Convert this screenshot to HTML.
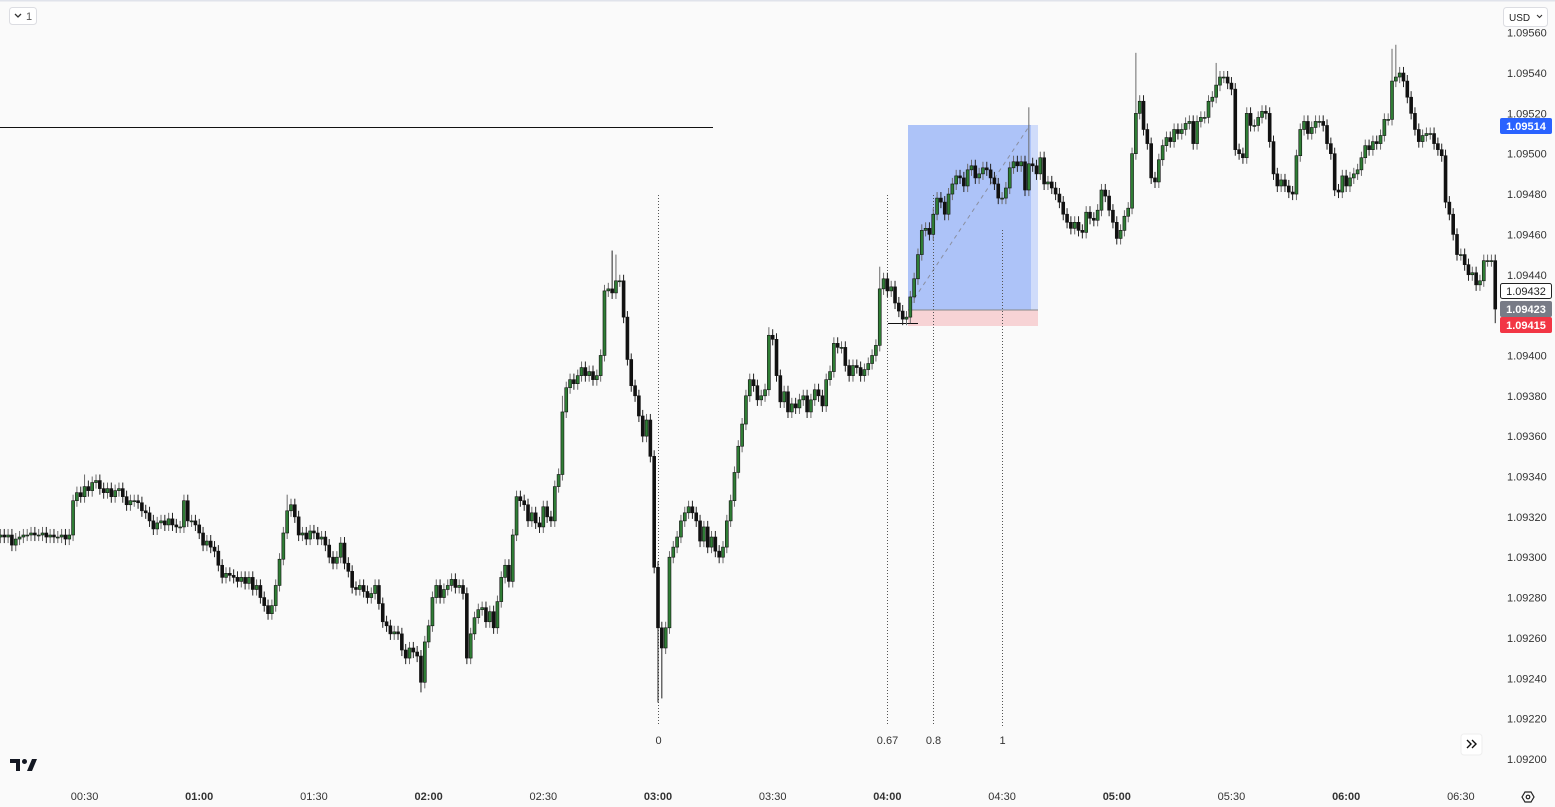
<!DOCTYPE html>
<html><head><meta charset="utf-8"><style>
html,body{margin:0;padding:0;background:#fafafa;width:1555px;height:807px;overflow:hidden;font-family:"Liberation Sans",sans-serif}
svg{position:absolute;left:0;top:0}
</style></head><body>
<svg id="c" width="1555" height="807">
<rect x="0" y="0" width="1555" height="807" fill="#fafafa"/>
<line x1="0" y1="0.5" x2="1555" y2="0.5" stroke="#e0e3eb" stroke-width="2"/>
<line x1="0" y1="127.5" x2="713" y2="127.5" stroke="#111" stroke-width="1"/>
<g>
<rect x="908" y="125" width="123" height="185" fill="#adc3f8"/>
<rect x="1031" y="125" width="7" height="185" fill="#d0dcfa"/>
<rect x="908" y="310" width="130" height="16" fill="#f7d3d5"/>
<line x1="908" y1="310" x2="1038" y2="310" stroke="#888"/>
<line x1="910" y1="305" x2="1030" y2="125" stroke="#8a8fa0" stroke-dasharray="4,4"/>
</g>
<line x1="888" y1="323.5" x2="918" y2="323.5" stroke="#111"/>
<g id="fib"></g>
<g id="candles"></g>
<g id="yaxis"></g>
<g id="xaxis"></g>
<g>
<rect x="1500" y="118" width="52" height="16" rx="2" fill="#2962ff"/>
<text x="1526" y="130" fill="#fff" font-size="11" text-anchor="middle" font-weight="bold">1.09514</text>
<rect x="1500.5" y="283.5" width="51" height="15" rx="2" fill="#fff" stroke="#222"/>
<text x="1526" y="295" fill="#222" font-size="11" text-anchor="middle">1.09432</text>
<rect x="1500" y="301" width="52" height="16" rx="2" fill="#787b86"/>
<text x="1526" y="313" fill="#fff" font-size="11" text-anchor="middle" font-weight="bold">1.09423</text>
<rect x="1500" y="317" width="52" height="16" rx="2" fill="#f23645"/>
<text x="1526" y="329" fill="#fff" font-size="11" text-anchor="middle" font-weight="bold">1.09415</text>
</g>
<g>
<rect x="9.5" y="7.5" width="27" height="17" rx="3" fill="#fff" stroke="#dcdde2"/>
<path d="M15 14 l3 3 l3 -3" fill="none" stroke="#333" stroke-width="1.3"/>
<text x="26" y="20" font-size="11" fill="#555">1</text>
</g>
<g>
<rect x="1503.5" y="7.5" width="44" height="19" rx="3" fill="#fff" stroke="#dcdde2"/>
<text x="1509" y="21" font-size="10" fill="#222">USD</text>
<path d="M1537 15 l2.5 2.5 l2.5 -2.5" fill="none" stroke="#333" stroke-width="1.1"/>
</g>
<g>
<rect x="1461" y="734" width="21" height="21" rx="3" fill="#fff" stroke="#eee"/>
<path d="M1467 740 l4 4 l-4 4 M1472 740 l4 4 l-4 4" fill="none" stroke="#111" stroke-width="1.4"/>
</g>
<g>
<path d="M1522 797 l3 -5 h6 l3 5 l-3 5 h-6z" fill="none" stroke="#222" stroke-width="1.2"/>
<circle cx="1528" cy="797" r="1.8" fill="none" stroke="#222" stroke-width="1.2"/>
</g>
<g>
<path d="M10 759 h10 v12 h-4 v-8 h-6z" fill="#131722"/>
<circle cx="24.5" cy="761.5" r="2.5" fill="#131722"/>
<path d="M27 771 l5 -12 h5 l-5 12z" fill="#131722"/>
</g>
</svg>
<script>
// candle closes in 1e-5 units above 1.09 (first candle at 00:08, one candle per minute)
const closes = [311,310,311,306,309,310,311,311,312,311,311,312,310,311,310,310,311,309,311,
328,332,330,335,333,337,338,334,332,334,330,333,334,330,326,328,328,327,323,322,318,314,317,318,316,319,316,315,315,328,318,318,316,312,306,308,305,303,296,290,292,291,290,288,290,287,290,284,286,280,276,272,276,286,299,312,323,326,320,311,312,309,313,312,309,310,306,300,297,300,307,297,293,285,284,286,283,280,282,286,277,268,266,262,263,262,254,250,255,253,251,238,258,266,280,286,280,284,286,289,285,286,282,250,262,270,274,275,268,273,265,278,290,296,288,311,330,328,326,318,322,317,315,325,320,318,335,341,372,384,388,386,390,394,390,392,388,390,400,432,433,431,437,437,419,398,385,380,370,360,368,350,295,265,255,265,300,305,310,318,322,325,322,318,308,315,305,310,303,300,305,318,328,342,355,366,380,388,385,378,380,383,410,408,390,377,382,372,376,374,378,380,372,378,383,380,375,388,392,406,404,404,395,390,395,394,390,393,396,400,405,433,438,432,434,426,422,418,419,429,438,450,462,463,460,470,478,476,470,480,485,489,488,484,492,494,488,490,493,492,488,485,478,478,483,493,496,494,496,482,495,494,490,498,485,486,483,480,476,470,466,463,466,462,461,471,468,467,472,482,479,472,466,458,462,469,473,500,520,526,512,505,488,486,497,504,508,506,512,510,512,515,516,505,516,518,518,526,528,534,538,538,535,532,502,500,498,520,514,514,518,521,520,506,490,484,487,484,481,480,499,512,516,510,513,516,516,514,505,500,482,481,489,484,488,490,492,498,504,502,506,505,509,517,517,536,538,540,536,528,520,512,506,509,510,510,505,502,499,476,470,460,450,450,445,440,441,435,437,447,447,447,423];
const firstOpen = 310;
// notable wick extremes: candle index, high, low
const spikeIdx = [22,75,110,147,160,161,172,173,201,230,269,297,318,364,365,391];
const spikeHigh = [341,331,null,380,452,450,null,null,414,444,523,550,545,552,554,null];
const spikeLow = [null,null,233,null,null,null,228,230,null,null,null,null,null,null,null,416];
const priceTicks = [560,540,520,500,480,460,440,420,400,380,360,340,320,300,280,260,240,220,200];
const timeLabels = ["00:30","01:00","01:30","02:00","02:30","03:00","03:30","04:00","04:30","05:00","05:30","06:00","06:30"];
const timeMinutes = [30,60,90,120,150,180,210,240,270,300,330,360,390];
const fibLevels = ["0","0.67","0.8","1"];
const fibMinutes = [180,240,252,270];
const fibTops = [195,195,195,230];

const NS="http://www.w3.org/2000/svg";
const yOf = p => 73 + (540 - p) * 2.0175;
const xOfMin = m => 658 + (m - 180) * 3.823;
function mk(tag, attrs, parent){const e=document.createElementNS(NS,tag);for(const k in attrs)e.setAttribute(k,attrs[k]);parent.appendChild(e);return e;}

const cg=document.getElementById('candles');
let prev=firstOpen;
closes.forEach((c,k)=>{
  const o=prev; prev=c;
  const x=xOfMin(k+8);
  let hi=Math.max(o,c)+3, lo=Math.min(o,c)-3;
  const si=spikeIdx.indexOf(k);
  if(si>=0){ if(spikeHigh[si]!=null)hi=spikeHigh[si]; if(spikeLow[si]!=null)lo=spikeLow[si]; }
  const up=c>=o;
  const g=mk('g',{},cg);
  
  
  mk('line',{x1:x,x2:x,y1:yOf(hi),y2:yOf(lo),stroke:up?'#6b6b6b':'#222','stroke-width':1},g);
  const yt=yOf(Math.max(o,c)), yb=yOf(Math.min(o,c));
  mk('rect',{x:x-1.5,y:yt,width:3,height:Math.max(1,yb-yt),fill:up?'#2f7d35':'#111',stroke:'#111','stroke-width':0.6},g);
});

const ya=document.getElementById('yaxis');
priceTicks.forEach(p=>{
  const t=mk('text',{x:1507,y:yOf(p)+4,'font-size':11,fill:'#333'},ya);
  
  
  t.textContent='1.09'+String(p).padStart(3,'0');
});

const xa=document.getElementById('xaxis');
timeLabels.forEach((l,i)=>{
  const t=mk('text',{x:xOfMin(timeMinutes[i]),y:800,'font-size':11,fill:'#333','text-anchor':'middle','font-weight':timeMinutes[i]%60===0?'bold':'normal'},xa);
  
  
  t.textContent=l;
});

const fg=document.getElementById('fib');
fibLevels.forEach((l,i)=>{
  const x=Math.round(xOfMin(fibMinutes[i]))+0.5;
  const ln=mk('line',{x1:x,x2:x,y1:fibTops[i],y2:726,stroke:'#555','stroke-dasharray':'1,2'},fg);
  
  
  const t=mk('text',{x:x,y:744,'font-size':11,fill:'#333','text-anchor':'middle'},fg);
  
  
  t.textContent=l;
});
</script>
</body></html>
